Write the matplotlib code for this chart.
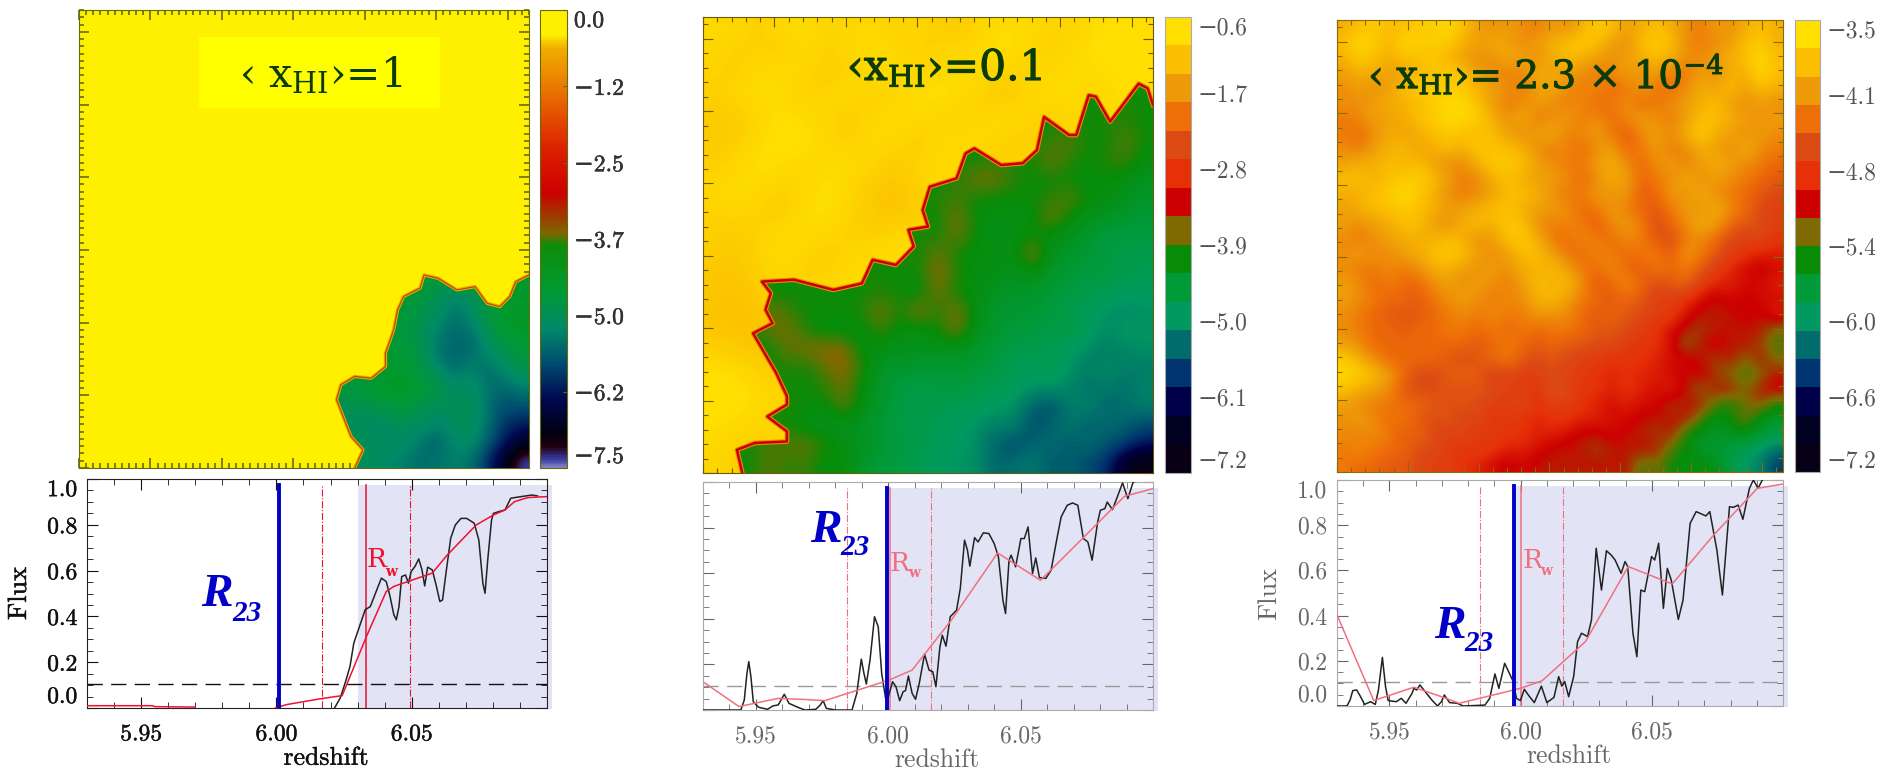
import numpy as np
import matplotlib
matplotlib.use('Agg')
from matplotlib import pyplot as plt
from matplotlib import patheffects as pe
from matplotlib.colors import ListedColormap, LinearSegmentedColormap, Normalize
from matplotlib.patches import Polygon, Rectangle
from matplotlib.cm import ScalarMappable
from matplotlib.ticker import MultipleLocator

W, H = 1879, 769
SERIF = ['cmr10', 'DejaVu Serif']
plt.rcParams['font.family'] = SERIF
plt.rcParams['mathtext.fontset'] = 'dejavuserif'
plt.rcParams['axes.formatter.use_mathtext'] = True

# ---- colour scales, top of the colour bar first
band_colors = ['#FFDE00', '#FBBE00', '#EE9A08', '#EE6E08', '#DC4A14', '#E63008', '#CC0000', '#7E6A00',
               '#088C08', '#009A38', '#009A60', '#006C6C', '#003470', '#000048', '#000020', '#080014']
smooth_stops = [0.0, 0.018, 0.045, 0.073, 0.15, 0.225, 0.305, 0.39, 0.488, 0.51, 0.6, 0.697, 0.82, 0.92, 0.948, 1.0]
smooth_colors = ['#8080C0', '#3838A0', '#200010', '#000010', '#000850', '#004A70', '#008A68', '#009A30',
                 '#108C08', '#7A6A00', '#CC0000', '#DC2000', '#E87000', '#F0B000', '#FFF000', '#FFF000']

cbar_labels_1 = ['0.0', '\u22121.2', '\u22122.5', '\u22123.7', '\u22125.0', '\u22126.2', '\u22127.5']
cbar_labels_2 = ['\u22120.6', '\u22121.7', '\u22122.8', '\u22123.9', '\u22125.0', '\u22126.1', '\u22127.2']
cbar_labels_3 = ['\u22123.5', '\u22124.1', '\u22124.8', '\u22125.4', '\u22126.0', '\u22126.6', '\u22127.2']
flux_ticks = [0.0, 0.2, 0.4, 0.6, 0.8, 1.0]
z_ticks = [5.95, 6.00, 6.05]

# ---- map 1 (tenths of a dex): neutral value, ionized patch and front
neutral_1 = [[-1.5]]
ion_1 = [[-46] * 12,
         [-46, -46, -46, -46, -46, -46, -49, -50, -48, -46, -45, -45],
         [-46, -46, -46, -46, -46, -48, -50, -54, -52, -47, -45, -44],
         [-46, -46, -46, -46, -47, -49, -52, -55, -53, -48, -45, -44],
         [-46, -46, -46, -46, -47, -49, -54, -55, -56, -51, -47, -46],
         [-46, -46, -46, -46, -46, -48, -54, -56, -54, -53, -50, -47],
         [-46, -46, -46, -45, -45, -47, -50, -54, -52, -55, -53, -50],
         [-48, -47, -46, -45, -44, -46, -48, -51, -50, -54, -56, -54],
         [-50, -50, -49, -48, -47, -49, -51, -50, -50, -54, -58, -58],
         [-52, -50, -52, -52, -50, -51, -53, -51, -50, -54, -60, -62],
         [-50, -50, -50, -51, -51, -54, -56, -52, -51, -56, -62, -68],
         [-52, -52, -50, -52, -53, -55, -54, -53, -54, -60, -68, -74]]
front_x_1 = [77.2, 79.5, 76.1, 75, 72.1, 73.3, 77.2, 81.8, 85.8, 85.8, 88.1, 89.2, 90.9, 95.5, 96.6, 100.6,
             105.8, 110.9, 114.3, 117.8, 120.6, 122.3, 126]
front_y_1 = [0, 5, 8.7, 11.5, 18.8, 22.9, 25.2, 24.7, 27.9, 31.6, 38, 43.5, 47.2, 49.5, 53.1, 52.2,
             49, 49.9, 45.3, 44.4, 47.2, 51.3, 53.1]

# ---- map 2: neutral in thousandths, ionized in tenths
neutral_2 = [[-86, -91, -100, -86, -82, -95, -91, -86, -100, -91, -100, -105, -91, -82, -86, -95, -91, -82, -77, -77],
             [-91, -100, -95, -105, -86, -100, -91, -82, -91, -100, -95, -91, -82, -77, -91, -100, -91, -77, -73, -68],
             [-95, -100, -86, -82, -91, -105, -95, -86, -82, -91, -86, -82, -91, -100, -95, -86, -82, -86, -77, -73],
             [-100, -91, -82, -86, -100, -91, -86, -100, -95, -82, -77, -86, -100, -105, -91, -82, -86, -95, -82, -77],
             [-105, -109, -91, -77, -82, -95, -105, -91, -82, -86, -95, -100, -91, -82, -95, -100, -91, -82, -86, -82],
             [-109, -100, -86, -73, -77, -91, -100, -86, -91, -105, -91, -82, -86, -100, -105, -95, -86, -91, -86, -86],
             [-100, -91, -77, -82, -91, -86, -82, -95, -105, -95, -82, -91, -105, -100] + [-86] * 6,
             [-91, -82, -86, -100, -91, -77, -91, -105, -114, -100, -86, -100, -95] + [-86] * 7,
             [-95, -91, -100, -105, -86, -77, -95, -109, -114, -105, -91, -82] + [-86] * 8,
             [-100, -105, -95, -86, -82, -91, -100, -100, -95, -86, -77, -91] + [-86] * 8,
             [-105, -109, -95, -82, -95, -105, -91, -86, -82, -77] + [-86] * 10,
             [-109, -114, -100, -91, -100, -95, -82] + [-86] * 13,
             [-114, -118, -109, -95, -86, -82] + [-86] * 14,
             [-114, -118, -114, -105, -91, -82] + [-86] * 14,
             [-100, -105, -114, -109, -95] + [-86] * 15,
             [-82, -86, -100, -105, -100] + [-86] * 15,
             [-68, -73, -86, -95, -100] + [-86] * 15,
             [-77, -82, -91, -91, -95] + [-86] * 15,
             [-86, -95, -100, -91, -86] + [-86] * 15,
             [-91, -100, -105, -100, -91] + [-86] * 15]
ion_2 = [[-41] * 24,
         [-41] * 24,
         [-41] * 24,
         [-41] * 24,
         [-41] * 22 + [-40, -41],
         [-41] * 19 + [-40, -41, -40, -40, -41],
         [-41] * 17 + [-40, -40, -38, -41, -41, -38, -41],
         [-41] * 15 + [-40, -40, -41, -37, -40, -41, -40, -39, -42],
         [-41] * 13 + [-40, -37, -37, -40, -41, -41, -41, -42, -41, -42, -43],
         [-41] * 12 + [-40, -39, -41, -41, -41, -41, -40, -38, -41, -42, -43, -44],
         [-41] * 12 + [-41, -37, -41, -42, -42, -42, -37, -41, -43, -43, -44, -45],
         [-41] * 11 + [-40, -41, -37, -41, -43, -42, -41, -42, -43, -44, -46, -46, -46],
         [-41] * 10 + [-40, -41, -37, -41, -42, -41, -43, -36, -43, -44, -45, -46, -47, -47],
         [-41] * 8 + [-40, -41, -41, -41, -36, -40, -42, -42, -43, -42, -44, -45, -46, -46, -47, -48],
         [-41] * 9 + [-40, -41, -42, -37, -41, -42, -43, -44, -44, -45, -46, -47, -48, -49, -49],
         [-41, -41, -41, -37, -39, -41, -41, -41, -40, -37, -41, -36, -41, -36, -42, -44, -45, -44, -46, -47, -49, -50, -51, -50],
         [-41, -41, -41, -38, -37, -40, -42, -42, -42, -39, -42, -42, -41, -37, -43, -44, -45, -46, -47, -46, -48, -51, -49, -50],
         [-41, -41, -41, -41, -38, -37, -36, -36, -42, -42, -43, -43, -43, -43, -44, -45, -47, -47, -48, -49, -51, -52, -51, -50],
         [-41, -41, -41, -41, -40, -41, -38, -36, -40, -44, -44, -44, -45, -44, -45, -46, -48, -49, -47, -50, -52, -50, -52, -52],
         [-41, -41, -41, -41, -41, -41, -40, -37, -42, -44, -46, -47, -46, -46, -47, -48, -48, -50, -50, -51, -53, -52, -53, -51],
         [-41, -41, -41, -41, -40, -41, -42, -38, -42, -44, -46, -47, -47, -48, -48, -49, -50, -54, -56, -52, -51, -54, -53, -52],
         [-41, -41, -41, -41, -41, -42, -43, -43, -44, -45, -47, -47, -48, -49, -50, -52, -51, -56, -54, -52, -55, -53, -54, -56],
         [-41, -41, -40, -39, -38, -38, -40, -42, -43, -44, -46, -47, -48, -49, -50, -54, -56, -54, -53, -55, -53, -55, -57, -60],
         [-41, -41, -41, -38, -40, -39, -42, -41, -44, -46, -46, -48, -49, -50, -50, -54, -53, -52, -55, -54, -56, -58, -66, -70]]
front_x_2 = [11, 9.5, 14.5, 23.5, 23.5, 18, 23.5, 23.5, 20.5, 14, 19.5, 17.5, 19, 16.5, 25.5, 36.5, 44.5, 47.5, 54, 59,
             57.5, 63, 61.5, 63.5, 71, 73.5, 76, 83.5, 89.5, 93.5, 95.5, 102.5, 104.5, 108, 110, 114, 122, 124.5, 126]
front_y_2 = [0, 6.4, 8.3, 8.7, 11.5, 15.6, 18.9, 21.2, 27.6, 38.6, 41.4, 45.1, 49.7, 52.9, 53.4, 50.6, 52.4, 58.9, 57.5, 62.6,
             67.2, 68.1, 72.7, 79.1, 81.4, 88.3, 89.7, 85.1, 85.6, 89.2, 98.4, 93.4, 93.4, 104.4, 104, 97.1, 107.6, 106.3, 101.7]

# ---- map 3 (tenths of a dex)
field_3 = [[-39, -38, -37, -38, -38, -37, -37, -36, -38, -40, -41, -40, -41, -42, -40, -41, -39, -37, -38, -40, -39, -38, -39, -41, -42, -40, -41, -39, -38, -39],
           [-38, -36, -37, -39, -36, -37, -37, -37, -39, -40, -39, -40, -41, -40, -39, -38, -37, -38, -40, -41, -38, -37, -38, -41, -42, -41, -40, -38, -37, -39],
           [-39, -37, -38, -39, -38, -38, -37, -39, -40, -41, -41, -39, -40, -41, -39, -38, -39, -40, -41, -40, -39, -38, -39, -41, -41, -40, -39, -38, -36, -38],
           [-40, -39, -39, -40, -40, -38, -38, -37, -38, -40, -41, -42, -41, -39, -40, -40, -41, -42, -41, -40, -41, -40, -42, -42, -40, -41, -39, -39, -36, -38],
           [-41, -40, -41, -40, -38, -37, -37, -37, -37, -39, -40, -41, -42, -40, -39, -41, -42, -41, -43, -42, -40, -42, -43, -41, -39, -40, -38, -40, -38, -39],
           [-41, -41, -40, -39, -39, -38, -37, -36, -36, -38, -40, -42, -41, -40, -41, -42, -41, -43, -42, -41, -43, -42, -41, -40, -39, -38, -40, -41, -40, -41],
           [-42, -41, -40, -40, -39, -38, -37, -36, -36, -37, -39, -41, -39, -42, -41, -40, -42, -41, -43, -41, -40, -41, -42, -40, -38, -38, -39, -40, -41, -40],
           [-42, -43, -41, -39, -40, -39, -38, -37, -38, -38, -38, -40, -41, -40, -39, -42, -41, -40, -42, -44, -41, -40, -41, -39, -37, -39, -40, -41, -40, -41],
           [-41, -42, -40, -39, -38, -40, -39, -38, -39, -37, -38, -38, -39, -41, -42, -41, -43, -41, -40, -43, -42, -40, -42, -41, -39, -40, -41, -39, -41, -42],
           [-40, -39, -39, -38, -39, -38, -40, -41, -41, -39, -37, -37, -38, -40, -41, -42, -42, -40, -39, -41, -43, -41, -40, -42, -40, -39, -40, -41, -42, -43],
           [-38, -38, -39, -38, -37, -37, -38, -40, -42, -41, -39, -38, -39, -40, -40, -41, -43, -41, -39, -40, -43, -42, -41, -39, -41, -40, -41, -42, -43, -44],
           [-39, -39, -38, -37, -36, -37, -39, -41, -42, -41, -40, -38, -38, -39, -41, -42, -42, -40, -41, -40, -44, -43, -40, -41, -39, -41, -42, -43, -44, -45],
           [-40, -39, -38, -38, -37, -38, -39, -40, -40, -39, -38, -38, -39, -40, -40, -41, -43, -42, -40, -42, -43, -44, -42, -40, -41, -39, -41, -43, -45, -46],
           [-40, -41, -40, -39, -38, -38, -40, -41, -39, -38, -39, -37, -38, -41, -42, -41, -42, -44, -41, -40, -42, -45, -43, -41, -39, -40, -43, -44, -45, -46],
           [-41, -42, -41, -40, -39, -39, -39, -38, -39, -41, -40, -38, -37, -39, -42, -43, -41, -42, -43, -41, -42, -44, -45, -42, -41, -43, -45, -46, -45, -47],
           [-41, -40, -41, -41, -40, -39, -38, -37, -38, -40, -41, -40, -38, -38, -40, -42, -43, -41, -42, -43, -42, -42, -44, -40, -42, -44, -46, -47, -48, -48],
           [-41, -42, -42, -41, -42, -41, -39, -39, -40, -41, -40, -41, -39, -39, -38, -40, -42, -43, -41, -43, -44, -42, -43, -42, -44, -46, -48, -49, -50, -49],
           [-40, -41, -43, -42, -43, -43, -41, -40, -41, -40, -41, -42, -40, -38, -39, -38, -41, -44, -43, -41, -43, -45, -44, -43, -46, -48, -48, -49, -49, -48],
           [-40, -41, -42, -43, -43, -44, -42, -41, -40, -41, -42, -41, -41, -39, -38, -40, -42, -43, -44, -43, -44, -46, -46, -47, -49, -50, -49, -50, -49, -49],
           [-41, -42, -43, -44, -44, -44, -43, -42, -41, -42, -41, -42, -42, -40, -41, -41, -43, -44, -43, -44, -45, -46, -46, -49, -50, -50, -50, -49, -50, -48],
           [-41, -42, -43, -43, -44, -43, -43, -42, -42, -43, -42, -43, -42, -43, -42, -42, -43, -44, -44, -45, -46, -47, -49, -50, -51, -50, -50, -50, -50, -52],
           [-40, -41, -43, -43, -43, -43, -43, -43, -43, -44, -43, -42, -43, -44, -43, -44, -44, -45, -45, -46, -47, -47, -49, -52, -50, -49, -50, -50, -51, -53],
           [-37, -39, -41, -43, -43, -43, -43, -44, -45, -44, -43, -42, -44, -45, -44, -45, -46, -46, -47, -47, -47, -48, -49, -49, -50, -51, -50, -52, -50, -52],
           [-36, -37, -38, -40, -43, -45, -45, -44, -43, -44, -46, -45, -46, -46, -45, -46, -46, -47, -48, -47, -48, -48, -49, -50, -49, -51, -52, -53, -52, -50],
           [-38, -39, -40, -41, -44, -45, -45, -44, -45, -44, -45, -46, -46, -47, -44, -45, -47, -47, -48, -47, -48, -49, -48, -50, -52, -50, -50, -52, -50, -49],
           [-40, -41, -42, -42, -43, -43, -44, -45, -44, -45, -46, -46, -45, -47, -46, -46, -47, -48, -49, -48, -49, -49, -51, -50, -50, -53, -54, -52, -51, -54],
           [-41, -40, -41, -43, -42, -44, -45, -44, -46, -45, -47, -46, -47, -48, -47, -47, -48, -48, -49, -49, -50, -50, -50, -50, -53, -55, -54, -52, -55, -56],
           [-41, -42, -41, -42, -44, -43, -45, -46, -45, -47, -46, -47, -47, -48, -48, -49, -50, -50, -49, -50, -50, -51, -50, -54, -55, -56, -55, -55, -56, -57],
           [-42, -41, -42, -43, -43, -45, -45, -46, -47, -46, -47, -48, -48, -49, -50, -50, -50, -51, -50, -50, -50, -50, -53, -54, -56, -56, -57, -58, -59, -61],
           [-42, -43, -43, -44, -44, -45, -46, -46, -47, -48, -49, -50, -49, -50, -50, -50, -50, -50, -50, -50, -53, -52, -54, -55, -54, -55, -57, -59, -60, -63]]

# ---- flux spectra
black_z_1 = [6.0215, 6.0236, 6.0258, 6.0272, 6.0286, 6.0307, 6.0328, 6.0347, 6.0371, 6.0388, 6.0406, 6.0420, 6.0434, 6.0443, 6.0453, 6.0463,
             6.0477, 6.0488, 6.0498, 6.0512, 6.0526, 6.0538, 6.0548, 6.0559, 6.0576, 6.0590, 6.0604, 6.0614, 6.0625, 6.0644, 6.0661, 6.0682,
             6.0703, 6.0731, 6.0748, 6.0763, 6.0771, 6.0781, 6.0795, 6.0802, 6.0823, 6.0845, 6.0866, 6.0887, 6.0944, 6.0965]
black_f_1 = [0, .044, .124, .182, .283, .356, .429, .443, .516, .567, .552, .487, .407, .385, .443, .574,
             .581, .545, .596, .618, .651, .603, .533, .615, .603, .538, .465, .472, .574, .741, .799, .828,
             .828, .807, .734, .545, .501, .647, .821, .850, .858, .865, .916, .920, .930, .926]
red_z_1 = [5.93, 5.9543, 5.955, 5.9699, np.nan, 5.9996, 6.0038, 6.0166, 6.0243, 6.0333, 6.0406, 6.0434, 6.0576, 6.0632, 6.0738, 6.0802,
           6.0845, 6.0880, 6.0929, 6.1]
red_f_1 = [.010, .010, .006, .004, np.nan, 0, .015, .041, .054, .313, .509, .531, .589, .669, .799, .843,
           .865, .901, .919, .923]

black_z_2 = [5.93, 5.9443, 5.9456, 5.9466, 5.9473, 5.9481, 5.9490, 5.9510, 5.9544, 5.9564, 5.9584, 5.9607, 5.9625, 5.9658, 5.9685, 5.9726,
             5.9743, 5.9754, 5.9766, 5.9800, 5.9863, 5.9881, 5.9898, 5.9908, 5.9917, 5.9931, 5.9948, 5.9962, 5.9975, 5.9990, 5.9997, 6.0016,
             6.0029, 6.0043, 6.0056, 6.0065, 6.0076, 6.0090, 6.0103, 6.0117, 6.0137, 6.0154, 6.0168, 6.0180, 6.0195, 6.0204, 6.0218, 6.0234,
             6.0258, 6.0272, 6.0288, 6.0299, 6.0308, 6.0326, 6.0339, 6.0359, 6.0380, 6.0400, 6.0416, 6.0433, 6.0443, 6.0456, 6.0464, 6.0481,
             6.0501, 6.0514, 6.0528, 6.0545, 6.0557, 6.0571, 6.0595, 6.0615, 6.0636, 6.0653, 6.0676, 6.0696, 6.0716, 6.0737, 6.0754, 6.0770,
             6.0791, 6.0801, 6.0818, 6.0827, 6.0847, 6.0865, 6.0885, 6.0905, 6.0925, 6.0959]
black_f_2 = [0, 0, .044, .161, .212, .146, .036, .012, .003, .018, .022, .069, .029, .012, 0, .003,
             .022, .041, .007, 0, 0, .073, .223, .161, .114, .219, .409, .365, .161, .050, .044, .124,
             .102, .041, .080, .085, .149, .073, .047, .117, .245, .175, .168, .102, .277, .328, .280, .409,
             .438, .533, .745, .701, .631, .756, .737, .777, .774, .730, .672, .482, .423, .657, .679, .628,
             .752, .752, .803, .599, .667, .581, .577, .613, .745, .847, .898, .908, .898, .752, .737, .657,
             .825, .876, .883, .912, .879, .934, .996, .927, 1.0, 1.01]
red_z_2 = [5.93, 5.9436, 5.9584, 5.9672, 5.9760, 6.0002, 6.0090, 6.0238, 6.0413, 6.0575, 6.0737, 6.0892, 6.1]
red_f_2 = [.124, .015, .051, .047, .041, .131, .175, .394, .689, .569, .756, .937, .971]

black_z_3 = [5.93, 5.9338, 5.9350, 5.9360, 5.9375, 5.9390, 5.9405, 5.9428, 5.9446, 5.9458, 5.9473, 5.9485, 5.9495, 5.9526, 5.9545, 5.9563,
             5.9586, 5.9593, 5.9604, 5.9616, 5.9631, 5.9661, 5.9683, 5.9698, 5.9709, 5.9729, 5.9759, 5.9781, 5.9864, 5.9882, 5.9902, 5.9917,
             5.9939, 5.9957, 5.9969, 5.9984, 5.9999, 6.0014, 6.0029, 6.0052, 6.0079, 6.0100, 6.0127, 6.0145, 6.0157, 6.0168, 6.0183, 6.0202,
             6.0217, 6.0232, 6.0255, 6.0270, 6.0288, 6.0308, 6.0327, 6.0345, 6.0360, 6.0383, 6.0398, 6.0408, 6.0428, 6.0443, 6.0458, 6.0473,
             6.0499, 6.0511, 6.0526, 6.0544, 6.0559, 6.0574, 6.0601, 6.0619, 6.0646, 6.0669, 6.0706, 6.0721, 6.0748, 6.0769, 6.0796, 6.0811,
             6.0829, 6.0847, 6.0872, 6.0887, 6.0905, 6.0924]
black_f_3 = [0, 0, .027, .068, .071, .041, .007, .019, .007, .071, .215, .086, .024, .019, .034, .012,
             .056, .078, .071, .093, .071, .027, 0, .019, .049, .015, .012, 0, .004, .034, .142, .078,
             .189, .145, .115, .034, .024, .074, .049, .015, .088, .015, .038, .130, .088, .108, .041, .130,
             .285, .322, .307, .381, .698, .513, .687, .668, .646, .587, .639, .617, .322, .218, .513, .506,
             .661, .646, .720, .432, .609, .558, .383, .469, .808, .860, .841, .860, .690, .491, .882, .879,
             .889, .826, .963, 1.0, .963, 1.007]
red_z_3 = [5.93, 5.944, 5.9593, 5.9706, 5.9766, 5.9999, 6.0082, 6.0247, 6.0410, 6.0578, 6.0736, 6.0902, 6.1]
red_f_3 = [.403, .024, .083, .038, .012, .078, .112, .285, .617, .540, .757, .963, .982]

# marker redshifts: R23, Rw, Rw band low and high, shading start
markers_1 = [6.001, 6.033, 6.0168, 6.0492, 6.030]
markers_2 = [5.9997, 6.0005, 5.9844, 6.0163, 6.0005]
markers_3 = [5.9973, 6.0003, 5.9844, 6.0163, 5.998]
flux_cut = 0.105

LABEL_SIZE = 17
BOLD = [pe.withStroke(linewidth=0.3, foreground='#111111')]


def px_axes(l, t, r, b):
    return fig.add_axes([l / W, 1 - b / H, (r - l) / W, (b - t) / H])


def cbar_axes(box, cmap, vmin, vmax, labels, txt, edge, ticklen, effects=None):
    cax = px_axes(*box)
    cb = fig.colorbar(ScalarMappable(Normalize(vmin, vmax), cmap), cax=cax)
    cb.set_ticks(np.linspace(vmax, vmin, 7))
    cb.set_ticklabels(labels, fontsize=LABEL_SIZE, color=txt)
    cb.minorticks_off()
    cax.tick_params(length=ticklen, pad=5, color=edge, direction='in')
    cb.outline.set_edgecolor(edge)
    cax.get_yticklabels()[0].set_va('top')
    cax.get_yticklabels()[-1].set_va('bottom')
    if effects:
        for t in cax.get_yticklabels():
            t.set_path_effects(effects)
    return cax


def map_frame(ax, col, minor, tw):
    ax.set_xlim(0, 126)
    ax.set_ylim(0, 126)
    ax.set_aspect('auto')
    ax.xaxis.set_major_locator(MultipleLocator(20))
    ax.xaxis.set_minor_locator(MultipleLocator(minor))
    ax.yaxis.set_major_locator(MultipleLocator(20))
    ax.yaxis.set_minor_locator(MultipleLocator(minor))
    ax.tick_params(which='major', direction='in', top=True, right=True, length=7, width=tw, color=col,
                   labelbottom=False, labelleft=False)
    ax.tick_params(which='minor', direction='in', top=True, right=True, length=3.5, width=tw, color=col)
    for s in ax.spines.values():
        s.set_edgecolor(col)


def flux_panel(box, bz, bf, rz, rf, mk, txt, frame, redc, linec, ylab, lw, effects=None):
    ax = px_axes(*box)
    ax.set_xlim(5.93, 6.10)
    ax.set_ylim(0, 1.0)
    ax.axvspan(mk[4], 6.102, ymin=-0.005, ymax=0.972, color='#E2E4F6', lw=0, clip_on=False, zorder=0)
    ax.axhline(flux_cut, color=linec, lw=1.0, dashes=(11, 6), zorder=1)
    ax.axvline(mk[1], ymax=0.972, color=redc, lw=1.1, zorder=2)
    ax.axvline(mk[2], ymax=0.972, color=redc, lw=0.8, ls='-.', zorder=2)
    ax.axvline(mk[3], ymax=0.972, color=redc, lw=0.8, ls='-.', zorder=2)
    ax.plot(bz, bf, color='#222222', lw=lw, zorder=3)
    ax.plot(rz, rf, color=redc, lw=lw, zorder=3)
    ax.axvline(mk[0], ymax=0.972, color='#0000C8', lw=2.8, zorder=4)
    ax.set_xticks(z_ticks)
    ax.set_xticklabels(['%.2f' % v for v in z_ticks], fontsize=LABEL_SIZE, color=txt)
    ax.set_yticks(flux_ticks)
    ax.xaxis.set_minor_locator(MultipleLocator(0.01))
    ax.yaxis.set_minor_locator(MultipleLocator(0.05))
    ax.tick_params(which='major', direction='in', top=True, right=True, length=8, color=txt)
    ax.tick_params(which='minor', direction='in', top=True, right=True, length=4, color=txt)
    ax.tick_params(axis='x', which='major', pad=11)
    ax.tick_params(axis='y', which='major', pad=7)
    ax.set_xlabel('redshift', fontsize=18.5, color=txt)
    ax.xaxis.set_label_coords(0.52, -38 / (box[3] - box[1]), transform=ax.transAxes)
    if ylab:
        ax.set_yticklabels(['%.1f' % v for v in flux_ticks], fontsize=LABEL_SIZE, color=txt)
        ax.get_yticklabels()[0].set_va('bottom')
        ax.get_yticklabels()[-1].set_va('top')
        ax.set_ylabel('Flux', fontsize=19, color=txt)
        ax.yaxis.set_label_coords(-56 / (box[2] - box[0]), 0.5, transform=ax.transAxes)
    else:
        ax.set_yticklabels([])
    if effects:
        for t in ax.get_xticklabels() + ax.get_yticklabels() + [ax.xaxis.label, ax.yaxis.label]:
            t.set_path_effects(effects)
    for s in ax.spines.values():
        s.set_edgecolor(frame)
    return ax


def r_labels(ax, r23, sub23, rw, subw, redc):
    ax.text(r23[0], r23[1], 'R', family='Liberation Serif', weight='bold', style='italic', fontsize=34,
            color='#0000C8', ha='center', va='center', zorder=5)
    ax.text(sub23[0], sub23[1], '23', family='Liberation Serif', weight='bold', style='italic', fontsize=21,
            color='#0000C8', ha='center', va='center', zorder=5)
    ax.text(rw[0], rw[1], 'R', family='DejaVu Serif', fontsize=19, color=redc, ha='center', va='center', zorder=5)
    ax.text(subw[0], subw[1], 'w', family='DejaVu Serif', weight='bold', fontsize=10, color=redc, ha='center', va='center', zorder=5)


fig = plt.figure(figsize=(W / 100, H / 100), dpi=100, facecolor='white')

smooth_cmap = LinearSegmentedColormap.from_list('smooth', list(zip(smooth_stops, smooth_colors)))
band_cmap = ListedColormap(band_colors[::-1])
# the maps blend between neighbouring bands, the bars keep the bands
soft_stops = [0.0] + [(i + 0.5) / 16 for i in range(16)] + [1.0]
soft_list = band_colors[::-1]
soft_cmap = LinearSegmentedColormap.from_list('soft', list(zip(soft_stops, [soft_list[0]] + soft_list + [soft_list[-1]])))
GREEN = '#0A3C0A'

# map 1
ax = px_axes(79, 10, 529, 468)
ax.imshow(np.array(neutral_1) / 10, extent=[0, 126, 0, 126], cmap=smooth_cmap, vmin=-7.5, vmax=0, interpolation='nearest')
ax.add_patch(Rectangle((33.6, 99), 67.4, 19.6, color='#FFFF00', lw=0, zorder=2))
im = ax.imshow(np.array(ion_1) / 10, extent=[70, 126, 0, 56], cmap=smooth_cmap, vmin=-7.5, vmax=0,
               interpolation='bicubic', interpolation_stage='data', zorder=3)
im.set_clip_path(Polygon(list(zip(front_x_1, front_y_1)) + [(126, 0)], transform=ax.transData))
ax.plot(front_x_1, front_y_1, color='#F0A800', lw=2.4, solid_joinstyle='round', zorder=4)
ax.plot(front_x_1, front_y_1, color='#B85000', lw=0.9, solid_joinstyle='round', zorder=5)
map_frame(ax, '#6A6A10', 2, 1.2)
ax.text(0.536, 0.855, '\u2039 x$_{\\mathrm{HI}}$\u203a=1', transform=ax.transAxes, family='DejaVu Serif',
        fontsize=29.5, color=GREEN, ha='center', va='center', zorder=6)
cbar_axes((540, 10, 567, 468), smooth_cmap, -7.5, 0, cbar_labels_1, '#333333', '#6A6A10', 3, BOLD)

# map 2
ax = px_axes(703, 17, 1153, 473)
ax.imshow(np.array(neutral_2) / 100, extent=[0, 126, 0, 126], cmap=soft_cmap, vmin=-7.2, vmax=-0.6,
          interpolation='bicubic', interpolation_stage='data')
im = ax.imshow(np.array(ion_2) / 10, extent=[0, 126, 0, 126], cmap=soft_cmap, vmin=-7.2, vmax=-0.6,
               interpolation='bicubic', interpolation_stage='data', zorder=3)
im.set_clip_path(Polygon(list(zip(front_x_2, front_y_2)) + [(126, 0)], transform=ax.transData))
ax.plot(front_x_2, front_y_2, color='#EE8A08', lw=3.4, solid_joinstyle='round', zorder=4)
ax.plot(front_x_2, front_y_2, color='#C80000', lw=1.8, solid_joinstyle='round', zorder=5)
map_frame(ax, '#6A5A10', 4, 0.8)
t = ax.text(0.537, 0.888, '\u2039x$_{\\mathrm{HI}}$\u203a=0.1', transform=ax.transAxes, family='DejaVu Serif',
            fontsize=30.5, color=GREEN, ha='center', va='center', zorder=6)
t.set_path_effects([pe.withStroke(linewidth=0.7, foreground=GREEN)])
cbar_axes((1165, 17, 1191, 473), band_cmap, -7.2, -0.6, cbar_labels_2, '#555555', '#AAAAAA', 0)

# map 3
ax = px_axes(1337, 20, 1783, 472)
ax.imshow(np.array(field_3) / 10 - 0.05, extent=[0, 126, 0, 126], cmap=soft_cmap, vmin=-7.2, vmax=-3.5,
          interpolation='bicubic', interpolation_stage='data')
map_frame(ax, '#8A6A10', 4, 0.8)
t = ax.text(0.07, 0.88, '\u2039 x$_{\\mathrm{HI}}$\u203a= 2.3 \u00d7 10$^{-4}$', transform=ax.transAxes, family='DejaVu Serif',
            fontsize=28, color=GREEN, ha='left', va='center', zorder=6)
t.set_path_effects([pe.withStroke(linewidth=0.7, foreground=GREEN)])
cbar_axes((1795, 20, 1820, 472), band_cmap, -7.2, -3.5, cbar_labels_3, '#555555', '#AAAAAA', 0)

# flux panels
ax = flux_panel((87, 479, 547, 708), black_z_1, black_f_1, red_z_1, red_f_1, markers_1,
                '#111111', '#222222', '#F01030', '#111111', True, 1.1, BOLD)
r_labels(ax, (5.978, .494), (5.989, .414), (6.037, .647), (6.0423, .596), '#F01030')

ax = flux_panel((703, 482, 1153, 710), black_z_2, black_f_2, red_z_2, red_f_2, markers_2,
                '#666666', '#AAAAAA', '#F07080', '#999999', False, 1.1)
r_labels(ax, (5.9764, .785), (5.9874, .712), (6.0043, .642), (6.0096, .599), '#F07080')

ax = flux_panel((1337, 480, 1783, 706), black_z_3, black_f_3, red_z_3, red_f_3, markers_3,
                '#666666', '#AAAAAA', '#F07080', '#999999', True, 1.1)
r_labels(ax, (5.9729, .351), (5.9841, .277), (6.0044, .646), (6.0097, .597), '#F07080')

fig.savefig('out.png', dpi=100)
